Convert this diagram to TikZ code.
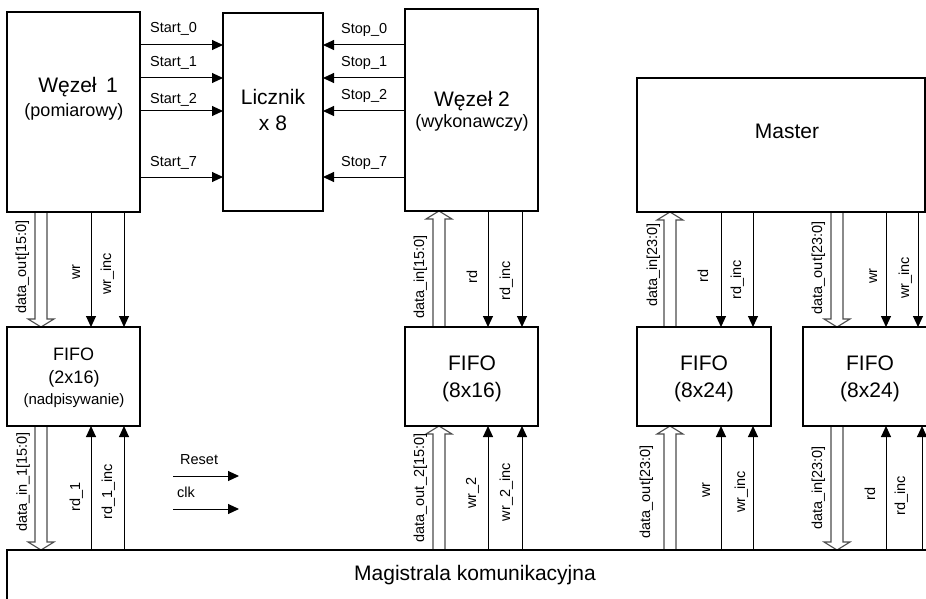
\documentclass[tikz,border=0pt]{standalone}
\usepackage{fontspec}
\setmainfont{Liberation Sans}
\usetikzlibrary{arrows.meta,calc,backgrounds}
\newcommand\hollowarr[2]{\draw[hol] let \p1=(#1), \p2=(#2), \p3=($(#2)!8pt!(#1)$) in
  (\x1-6pt,\y1) -- (\x1-6pt,\y3) -- (\x1-13pt,\y3) -- (\x2,\y2) -- (\x1+13pt,\y3) -- (\x1+6pt,\y3) -- (\x1+6pt,\y1);}
\begin{document}
\begin{tikzpicture}[x=1pt,y=-1pt,
  box/.style 2 args={draw,line width=1.7pt,minimum width=#1,minimum height=#2,inner sep=0pt,outer sep=0pt,rectangle},
  big/.style={font=\fontsize{21}{24}\selectfont,inner sep=0pt,anchor=base},
  mid/.style={font=\fontsize{18}{21}\selectfont,inner sep=0pt,anchor=base},
  sml/.style={font=\fontsize{15}{17}\selectfont,inner sep=0pt,anchor=base},
  sl/.style={font=\fontsize{14.5}{16}\selectfont,inner sep=0pt,anchor=base west},
  vl/.style={font=\fontsize{14.5}{16}\selectfont,inner sep=0pt,rotate=90,anchor=base},
  sig/.style={line width=1pt,-{Triangle[length=11pt,width=10pt]}},
  hol/.style={draw=black!70,line width=1.1pt,fill=white}]
\useasboundingbox (0,0) rectangle (926,599);
\clip (0,0) rectangle (926,599);
% boxes
\node[box={133}{200}] (w1) at (73.5,112) {};
\node[box={100}{198}] (lic) at (273,112) {};
\node[box={133}{202}] (w2) at (471.5,110) {};
\node[box={288}{134}] (master) at (781,145) {};
\node[box={133}{99}] (f1) at (73.5,376.5) {};
\node[box={133}{99}] (f2) at (471.5,376.5) {};
\node[box={134}{99}] (f3) at (704,376.5) {};
\node[box={137}{99}] (f4) at (871.5,376.5) {};
\node[box={933}{90}] (bus) at (473.5,595) {};
% box texts
\node[big] (t1) at (78,93) {Węzeł\hspace{0.45em}1};
\node[mid] (t1b) at (74,117) {(pomiarowy)};
\node[big] (t2) at (273,105) {Licznik};
\node[big] (t2b) at (273,131) {x 8};
\node[big] (t3) at (472,107) {Węzeł 2};
\node[mid] (t3b) at (472,128) {(wykonawczy)};
\node[big] (t4) at (787,139) {Master};
\node[mid] (t5) at (73.5,360) {FIFO};
\node[mid] (t5b) at (74,383) {(2x16)};
\node[sml] (t5c) at (74,404) {(nadpisywanie)};
\node[big] (t6) at (472,370) {FIFO};
\node[big] (t6b) at (472,397) {(8x16)};
\node[big] (t7) at (704,370) {FIFO};
\node[big] (t7b) at (704,397) {(8x24)};
\node[big] (t8) at (870,370) {FIFO};
\node[big] (t8b) at (870,397) {(8x24)};
\node[big] (t9) at (475,580) {Magistrala komunikacyjna};
% rows and columns
\coordinate (r0) at (0,45); \coordinate (r1) at (0,78);
\coordinate (r2) at (0,111); \coordinate (r7) at (0,177);
\coordinate (cA1) at (41,0); \coordinate (cA2) at (91,0); \coordinate (cA3) at (124,0);
\coordinate (cB1) at (439,0); \coordinate (cB2) at (488,0); \coordinate (cB3) at (522,0);
\coordinate (cC1) at (670,0); \coordinate (cC2) at (721,0); \coordinate (cC3) at (753,0);
\coordinate (cD1) at (837,0); \coordinate (cD2) at (886,0); \coordinate (cD3) at (918,0); \coordinate (cD4) at (922,0);
\begin{pgfonlayer}{background}
% start / stop
\draw[sig] (w1.east |- r0) -- (lic.west |- r0);
\draw[sig] (w1.east |- r1) -- (lic.west |- r1);
\draw[sig] (w1.east |- r2) -- (lic.west |- r2);
\draw[sig] (w1.east |- r7) -- (lic.west |- r7);
\draw[sig] (w2.west |- r0) -- (lic.east |- r0);
\draw[sig] (w2.west |- r1) -- (lic.east |- r1);
\draw[sig] (w2.west |- r2) -- (lic.east |- r2);
\draw[sig] (w2.west |- r7) -- (lic.east |- r7);
% column A
\hollowarr{w1.south -| cA1}{f1.north -| cA1}
\draw[sig] (w1.south -| cA2) -- (f1.north -| cA2);
\draw[sig] (w1.south -| cA3) -- (f1.north -| cA3);
\hollowarr{f1.south -| cA1}{bus.north -| cA1}
\draw[sig] (bus.north -| cA2) -- (f1.south -| cA2);
\draw[sig] (bus.north -| cA3) -- (f1.south -| cA3);
% column B
\hollowarr{f2.north -| cB1}{w2.south -| cB1}
\draw[sig] (w2.south -| cB2) -- (f2.north -| cB2);
\draw[sig] (w2.south -| cB3) -- (f2.north -| cB3);
\hollowarr{bus.north -| cB1}{f2.south -| cB1}
\draw[sig] (bus.north -| cB2) -- (f2.south -| cB2);
\draw[sig] (bus.north -| cB3) -- (f2.south -| cB3);
% column C
\hollowarr{f3.north -| cC1}{master.south -| cC1}
\draw[sig] (master.south -| cC2) -- (f3.north -| cC2);
\draw[sig] (master.south -| cC3) -- (f3.north -| cC3);
\hollowarr{bus.north -| cC1}{f3.south -| cC1}
\draw[sig] (bus.north -| cC2) -- (f3.south -| cC2);
\draw[sig] (bus.north -| cC3) -- (f3.south -| cC3);
% column D
\hollowarr{master.south -| cD1}{f4.north -| cD1}
\draw[sig] (master.south -| cD2) -- (f4.north -| cD2);
\draw[sig] (master.south -| cD3) -- (f4.north -| cD3);
\hollowarr{f4.south -| cD1}{bus.north -| cD1}
\draw[sig] (bus.north -| cD2) -- (f4.south -| cD2);
\draw[sig] (bus.north -| cD4) -- (f4.south -| cD4);
\end{pgfonlayer}
% reset / clk
\coordinate (rs0) at (173,476); \coordinate (rs1) at (239,476);
\coordinate (ck0) at (173,509); \coordinate (ck1) at (239,509);
\draw[sig] (rs0) -- (rs1);
\draw[sig] (ck0) -- (ck1);
\node[sl] (lrs) at (180,464) {Reset};
\node[sl] (lck) at (177,497) {clk};
% start/stop labels
\node[sl] (s0) at (150,33) {Start\_0};
\node[sl] (s1) at (150,67) {Start\_1};
\node[sl] (s2) at (150,104) {Start\_2};
\node[sl] (s7) at (150,166) {Start\_7};
\node[sl] (p0) at (341,34) {Stop\_0};
\node[sl] (p1) at (341,67) {Stop\_1};
\node[sl] (p2) at (341,100) {Stop\_2};
\node[sl] (p7) at (341,166) {Stop\_7};
% vertical labels
\node[vl] (la1) at (26,267) {data\_out[15:0]};
\node[vl] (la2) at (80,272) {wr};
\node[vl] (la3) at (111,274) {wr\_inc};
\node[vl] (la4) at (27,482) {data\_in\_1[15:0]};
\node[vl] (la5) at (80,497) {rd\_1};
\node[vl] (la6) at (112,492) {rd\_1\_inc};
\node[vl] (lb1) at (424,277) {data\_in[15:0]};
\node[vl] (lb2) at (477,277) {rd};
\node[vl] (lb3) at (510,281) {rd\_inc};
\node[vl] (lb4) at (424,488) {data\_out\_2[15:0]};
\node[vl] (lb5) at (476,493) {wr\_2};
\node[vl] (lb6) at (510,492) {wr\_2\_inc};
\node[vl] (lc1) at (657,265) {data\_in[23:0]};
\node[vl] (lc2) at (708,276) {rd};
\node[vl] (lc3) at (741,280) {rd\_inc};
\node[vl] (lc4) at (650,492) {data\_out[23:0]};
\node[vl] (lc5) at (710,490) {wr};
\node[vl] (lc6) at (745,492) {wr\_inc};
\node[vl] (ld1) at (822,268) {data\_out[23:0]};
\node[vl] (ld2) at (877,276) {wr};
\node[vl] (ld3) at (909,278) {wr\_inc};
\node[vl] (ld4) at (822,488) {data\_in[23:0]};
\node[vl] (ld5) at (875,494) {rd};
\node[vl] (ld6) at (905,496) {rd\_inc};
\end{tikzpicture}
\end{document}
